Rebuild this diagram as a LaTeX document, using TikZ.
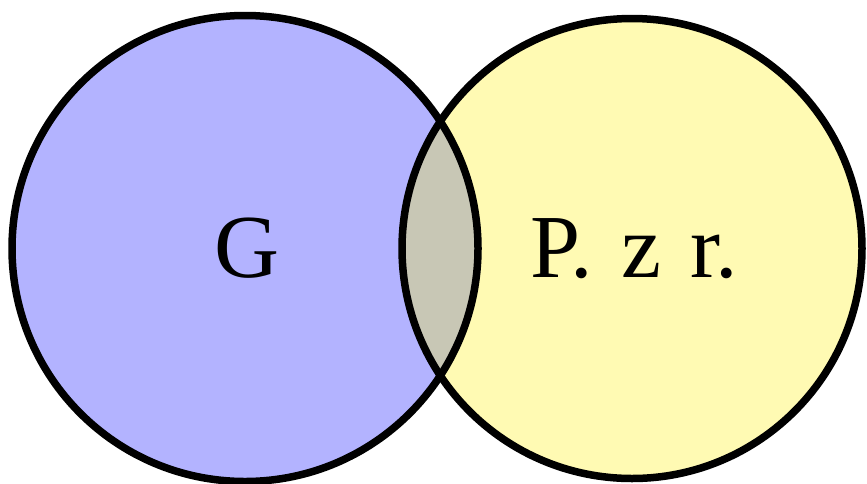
\documentclass[tikz,border=0pt]{standalone}
\usepackage{fontspec}
\setmainfont{Liberation Serif}
\definecolor{setblue}{RGB}{179,179,255}
\definecolor{setyellow}{RGB}{255,250,179}
\definecolor{setboth}{RGB}{200,199,181}
\begin{document}
\begin{tikzpicture}[x=1pt, y=-1pt, text=black]
    \tikzset{ring/.style={draw=black, line width=7.5pt}, setlabel/.style={font=\fontsize{90}{90}\selectfont, inner sep=0pt}}
    \useasboundingbox (0,0) rectangle (867,483);
    % The two sets
    \fill[setblue] (245,248.5) circle (233);
    \fill[setyellow] (632,248.5) circle (230);
    % Common part
    \begin{scope}
        \clip (245,248.5) circle (233);
        \fill[setboth] (632,248.5) circle (230);
    \end{scope}
    % Outlines
    \draw[ring] (245,248.5) circle (233);
    \draw[ring] (632,248.5) circle (230);
    % Labels
    \node[setlabel, anchor=base] (g) at (247,277) {G};
    \node[setlabel, anchor=base] (pzr) at (634,277) {P.\hspace{0.32em}z\hspace{0.32em}r.};
\end{tikzpicture}
\end{document}
